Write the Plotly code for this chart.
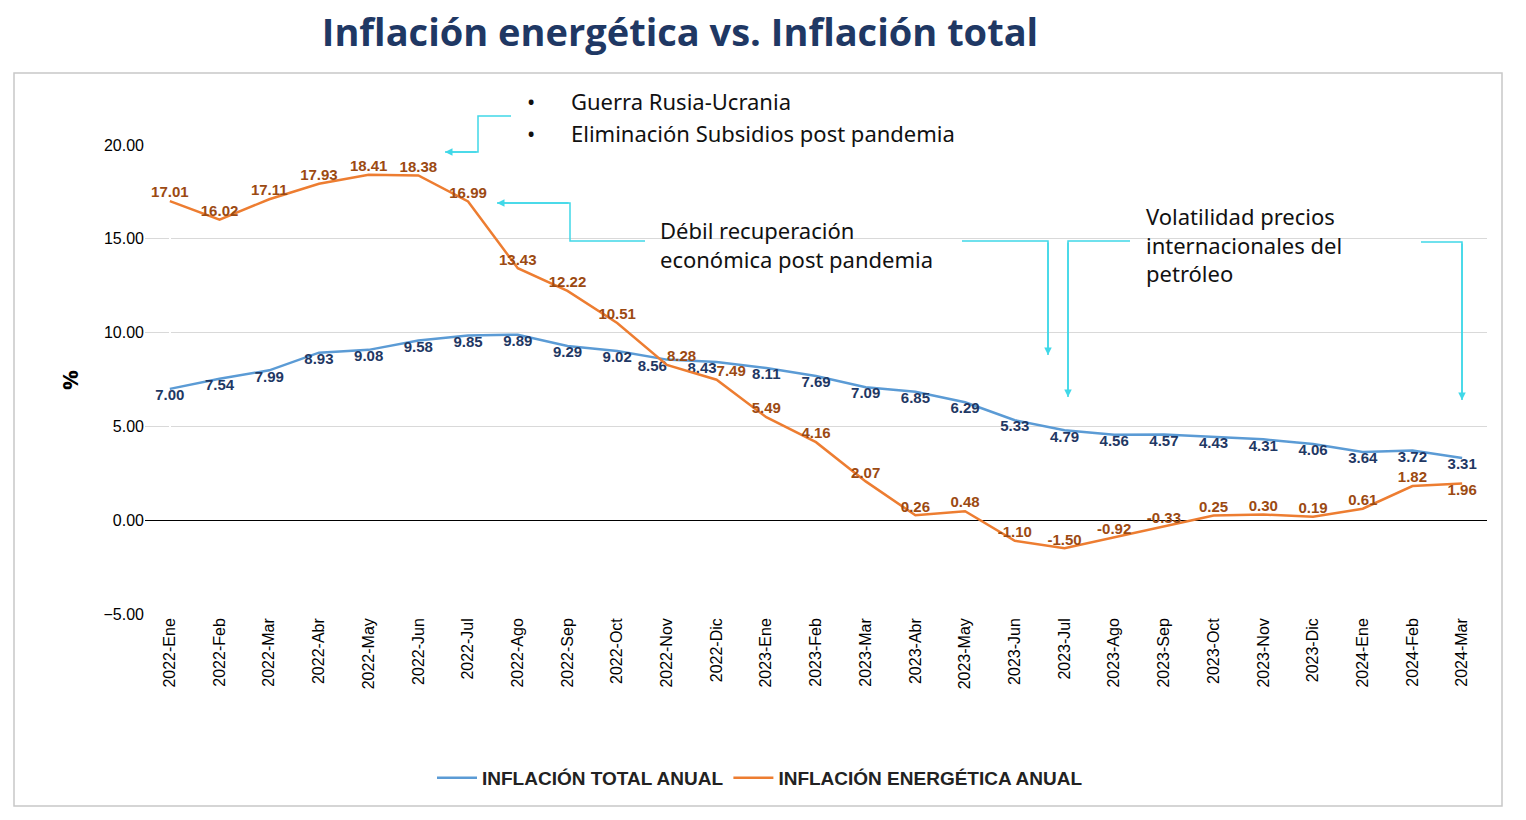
import plotly.graph_objects as go

months = ["2022-Ene", "2022-Feb", "2022-Mar", "2022-Abr", "2022-May", "2022-Jun", "2022-Jul",
          "2022-Ago", "2022-Sep", "2022-Oct", "2022-Nov", "2022-Dic", "2023-Ene", "2023-Feb",
          "2023-Mar", "2023-Abr", "2023-May", "2023-Jun", "2023-Jul", "2023-Ago", "2023-Sep",
          "2023-Oct", "2023-Nov", "2023-Dic", "2024-Ene", "2024-Feb", "2024-Mar"]
total = [7.00, 7.54, 7.99, 8.93, 9.08, 9.58, 9.85, 9.89, 9.29, 9.02, 8.56, 8.43, 8.11, 7.69,
         7.09, 6.85, 6.29, 5.33, 4.79, 4.56, 4.57, 4.43, 4.31, 4.06, 3.64, 3.72, 3.31]
energia = [17.01, 16.02, 17.11, 17.93, 18.41, 18.38, 16.99, 13.43, 12.22, 10.51, 8.28, 7.49,
           5.49, 4.16, 2.07, 0.26, 0.48, -1.10, -1.50, -0.92, -0.33, 0.25, 0.30, 0.19, 0.61,
           1.82, 1.96]

# plot area in pixels (as seen in the reference)
L, R, T, B = 145, 1487, 145, 614
W, H = R - L, B - T
OFF = 8  # page offset in the screenshot


def px(x, y):
    return (x - L) / W, (B - y) / H


idx = list(range(len(months)))
pos_total = ["bottom center"] * len(idx)
pos_energia = ["top center"] * len(idx)
pos_total[10] = "bottom left"
pos_energia[10] = "top right"
pos_total[11] = "bottom left"
pos_energia[11] = "top right"
pos_energia[-1] = "bottom center"

fig = go.Figure()
fig.add_trace(go.Scatter(
    x=idx, y=total, mode="lines+text", name="INFLACIÓN TOTAL ANUAL",
    line=dict(color="#5B9BD5", width=2.5),
    text=[f"<b>{v:.2f}</b>" for v in total], textposition=pos_total,
    textfont=dict(color="#1F3864", size=15, family="Liberation Sans"),
))
fig.add_trace(go.Scatter(
    x=idx, y=energia, mode="lines+text", name="INFLACIÓN ENERGÉTICA ANUAL",
    line=dict(color="#ED7D31", width=2.5),
    text=[f"<b>{v:.2f}</b>" for v in energia], textposition=pos_energia,
    textfont=dict(color="#9C4A12", size=15, family="Liberation Sans"),
))

shapes = []
x0, y0 = px(14, 806)
x1, y1 = px(1502, 73)
shapes.append(dict(type="rect", xref="paper", yref="paper", x0=x0, y0=y0, x1=x1, y1=y1,
                   line=dict(color="#C8C8C8", width=1.5), layer="below"))


def poly(points):
    path = ""
    for i, (x, y) in enumerate(points):
        a, b = px(x, y)
        path += ("M" if i == 0 else "L") + f"{a},{b} "
    shapes.append(dict(type="path", xref="paper", yref="paper", path=path,
                       line=dict(color="#40D8E8", width=1.5)))


arrows = [
    [(511, 116), (478, 116), (478, 152), (445, 152)],
    [(645, 241), (570, 241), (570, 203), (497, 203)],
    [(962, 241), (1048, 241), (1048, 355)],
    [(1130, 241), (1068, 241), (1068, 397)],
    [(1421, 242), (1462, 242), (1462, 400)],
]
annotations = []
for pts in arrows:
    poly(pts)
    (xa, ya), (xb, yb) = pts[-2], pts[-1]
    a, b = px(xb, yb)
    annotations.append(dict(xref="paper", yref="paper", x=a, y=b, text="", showarrow=True,
                            arrowhead=2, arrowsize=1, arrowwidth=1.5, arrowcolor="#40D8E8",
                            ax=xa - xb, ay=ya - yb))

txt_font = dict(family="Noto Sans", size=22, color="#111111")
for x, y, t in [(525, 101, "•"), (525, 133, "•"),
                (569, 101, "Guerra Rusia-Ucrania"),
                (569, 133, "Eliminación Subsidios post pandemia"),
                (658, 244, "Débil recuperación<br>económica post pandemia"),
                (1144, 244, "Volatilidad precios<br>internacionales del<br>petróleo")]:
    a, b = px(x, y)
    annotations.append(dict(xref="paper", yref="paper", x=a, y=b, text=t, showarrow=False,
                            xanchor="left", yanchor="middle", align="left", font=txt_font))

a, b = px(52, 380)
annotations.append(dict(xref="paper", yref="paper", x=a, y=b, text="<b>%</b>", showarrow=False,
                        textangle=-90, font=dict(size=22, color="black")))

fig.update_layout(
    width=1526, height=820,
    margin=dict(l=L - OFF, r=1526 - R + OFF, t=T - OFF, b=820 - B + OFF),
    paper_bgcolor="white", plot_bgcolor="white",
    title=dict(text="<b>Inflación energética vs. Inflación total</b>", x=672 / 1526, xanchor="center",
               y=1 - 25 / 820, yanchor="middle",
               font=dict(family="Open Sans", size=38, color="#1F3864")),
    xaxis=dict(tickvals=idx, ticktext=months, tickangle=-90, range=[-0.5, len(months) - 0.5],
               showgrid=False, tickfont=dict(size=16, color="black", family="Liberation Sans"),
               ticks="", showline=False),
    yaxis=dict(range=[-5, 20], dtick=5, tickformat=".2f", gridcolor="#D9D9D9",
               zeroline=True, zerolinecolor="black", zerolinewidth=1.2,
               tickfont=dict(size=16, color="black", family="Liberation Sans")),
    legend=dict(orientation="h", x=px(760, 0)[0], xanchor="center", y=px(0, 778)[1],
                yanchor="middle", font=dict(size=19, color="#222222", family="Liberation Sans"),
                itemwidth=40),
    shapes=shapes, annotations=annotations,
)
fig.for_each_trace(lambda t: t.update(name="<b>" + t.name + "</b>"))

fig.write_html("out.html")
